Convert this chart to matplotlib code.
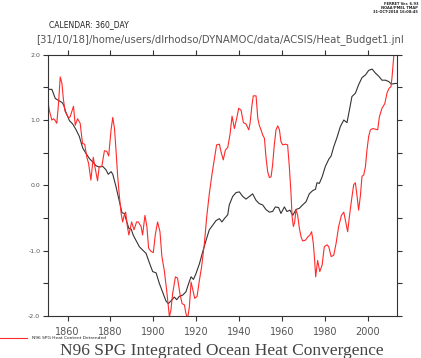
import matplotlib
matplotlib.use("Agg")
import matplotlib.pyplot as plt
from matplotlib.ticker import MultipleLocator, FixedLocator

# black series (heat convergence)
conv_years = [1850.8, 1852.7, 1854.3, 1855.8, 1857.4, 1858.2, 1859.0, 1860.9, 1862.4, 1864.0,
              1865.5, 1867.1, 1868.6, 1870.2, 1871.7, 1873.3, 1874.8, 1876.4, 1877.9, 1879.0,
              1880.3, 1881.1, 1882.6, 1884.2, 1885.4, 1886.5, 1887.1, 1888.6, 1889.7, 1890.6,
              1892.2, 1893.5, 1895.0, 1896.6, 1898.1, 1899.7, 1901.3, 1902.8, 1904.4, 1905.9,
              1907.0, 1908.2, 1909.8, 1910.9, 1912.1, 1913.7, 1915.2, 1916.5, 1917.6, 1918.7,
              1919.9, 1921.5, 1923.0, 1924.6, 1926.1, 1927.7, 1929.2, 1930.8, 1932.0, 1933.1,
              1934.7, 1935.4, 1937.0, 1938.6, 1940.1, 1941.7, 1943.2, 1944.8, 1946.3, 1947.9,
              1949.4, 1951.0, 1952.5, 1954.1, 1955.6, 1956.9, 1958.4, 1959.5, 1961.1, 1962.3,
              1963.7, 1965.0, 1966.5, 1968.1, 1969.6, 1971.2, 1972.7, 1974.3, 1975.6, 1976.3,
              1977.4, 1978.7, 1980.2, 1981.8, 1982.9, 1984.1, 1985.6, 1987.2, 1988.8, 1990.3,
              1991.4, 1992.6, 1994.2, 1995.7, 1997.3, 1998.9, 2000.4, 2002.0, 2003.5, 2005.1,
              2006.6, 2008.2, 2009.7, 2011.0, 2012.8, 2013.8]
conv_vals = [1.47, 1.47, 1.33, 1.30, 1.27, 1.23, 1.14, 0.99, 0.94, 0.85,
             0.75, 0.57, 0.49, 0.41, 0.36, 0.30, 0.28, 0.29, 0.24, 0.17,
             0.21, 0.17, -0.02, -0.25, -0.42, -0.43, -0.50, -0.66, -0.67, -0.76,
             -0.86, -0.94, -0.99, -1.04, -1.18, -1.32, -1.34, -1.50, -1.64, -1.77,
             -1.81, -1.77, -1.71, -1.75, -1.70, -1.68, -1.63, -1.50, -1.40, -1.44,
             -1.35, -1.20, -1.02, -0.84, -0.68, -0.61, -0.54, -0.51, -0.56, -0.51,
             -0.45, -0.30, -0.17, -0.11, -0.10, -0.17, -0.21, -0.17, -0.13, -0.23,
             -0.28, -0.30, -0.37, -0.41, -0.40, -0.33, -0.34, -0.43, -0.33, -0.40,
             -0.38, -0.46, -0.37, -0.35, -0.30, -0.25, -0.13, -0.08, -0.06, 0.04,
             0.03, 0.13, 0.29, 0.40, 0.45, 0.59, 0.73, 0.90, 1.00, 0.96,
             1.15, 1.36, 1.41, 1.54, 1.65, 1.69, 1.76, 1.78, 1.72, 1.67,
             1.61, 1.61, 1.59, 1.55, 1.56, 1.56]

# red series (heat content detrended)
hc_years = [1850.9, 1851.5, 1852.7, 1853.5, 1854.3, 1855.0, 1855.8, 1856.6, 1857.4, 1858.1,
            1858.9, 1859.7, 1860.5, 1861.2, 1862.8, 1863.6, 1864.7, 1865.9, 1867.0, 1868.0,
            1869.0, 1869.8, 1870.9, 1872.0, 1872.9, 1874.0, 1874.8, 1876.0, 1877.2, 1878.3,
            1879.2, 1880.3, 1881.1, 1881.9, 1882.6, 1883.4, 1884.2, 1885.0, 1885.7, 1886.4,
            1887.1, 1887.9, 1888.6, 1889.9, 1891.0, 1892.2, 1893.0, 1894.3, 1895.0, 1896.1,
            1897.0, 1897.8, 1898.9, 1900.0, 1900.9, 1902.0, 1903.1, 1904.0, 1905.1, 1906.2,
            1907.0, 1907.5, 1908.2, 1909.0, 1910.3, 1911.3, 1912.4, 1913.4, 1914.5, 1915.2,
            1916.0, 1916.8, 1917.6, 1918.3, 1919.3, 1920.4, 1921.5, 1922.5, 1923.8, 1924.9,
            1926.1, 1927.4, 1928.4, 1929.5, 1930.8, 1931.6, 1932.6, 1933.6, 1934.7, 1935.8,
            1936.7, 1937.8, 1938.9, 1939.8, 1940.9, 1942.0, 1943.2, 1944.5, 1945.1, 1946.0,
            1946.6, 1947.9, 1948.7, 1949.4, 1950.2, 1951.0, 1951.8, 1952.5, 1953.3, 1954.1,
            1954.9, 1955.6, 1956.4, 1957.2, 1958.0, 1958.8, 1959.5, 1960.3, 1961.6, 1962.6,
            1963.4, 1964.2, 1964.7, 1965.3, 1965.9, 1966.5, 1967.3, 1968.1, 1968.9, 1969.6,
            1970.9, 1972.0, 1973.0, 1973.8, 1974.6, 1975.2, 1975.7, 1976.6, 1977.6, 1978.7,
            1979.7, 1981.0, 1981.8, 1982.9, 1984.1, 1985.2, 1986.4, 1987.7, 1988.8, 1989.5,
            1990.6, 1991.4, 1992.3, 1993.4, 1994.2, 1995.0, 1995.7, 1996.5, 1997.3, 1998.1,
            1998.9, 1999.6, 2000.4, 2001.2, 2002.3, 2003.5, 2004.6, 2005.4, 2006.6, 2007.9,
            2009.0, 2010.0, 2010.8, 2011.3, 2011.8, 2012.2]
hc_vals = [1.28, 1.15, 1.00, 1.02, 0.99, 0.95, 1.25, 1.66, 1.56, 1.31,
           1.13, 1.08, 1.03, 1.05, 1.21, 0.92, 1.02, 0.95, 0.64, 0.63,
           0.43, 0.34, 0.08, 0.43, 0.26, 0.07, 0.29, 0.29, 0.53, 0.52,
           0.45, 0.85, 1.04, 0.87, 0.54, 0.13, -0.17, -0.43, -0.56, -0.46,
           -0.41, -0.63, -0.76, -0.56, -0.68, -0.56, -0.56, -0.63, -0.76, -0.46,
           -0.63, -0.96, -1.01, -1.03, -0.76, -0.56, -0.71, -1.09, -1.30, -1.60,
           -1.86, -2.01, -1.91, -1.66, -1.40, -1.42, -1.66, -1.81, -1.83, -1.96,
           -2.04, -1.86, -1.48, -1.58, -1.73, -1.70, -1.45, -1.25, -0.89, -0.48,
           -0.13, 0.18, 0.39, 0.62, 0.63, 0.51, 0.39, 0.54, 0.58, 0.79,
           1.06, 0.87, 1.03, 1.18, 1.15, 0.96, 0.94, 0.85, 0.95, 1.23,
           1.37, 1.37, 1.03, 0.92, 0.85, 0.77, 0.72, 0.44, 0.21, 0.12,
           0.13, 0.31, 0.62, 0.85, 0.91, 0.85, 0.67, 0.62, 0.63, 0.62,
           0.29, -0.13, -0.48, -0.63, -0.56, -0.37, -0.46, -0.66, -0.79, -0.85,
           -0.84, -0.79, -0.76, -0.71, -0.89, -1.14, -1.40, -1.15, -1.32, -1.22,
           -0.94, -0.91, -0.94, -1.09, -1.07, -0.89, -0.63, -0.46, -0.41, -0.53,
           -0.71, -0.48, -0.25, 0.01, 0.04, -0.17, -0.38, -0.17, 0.14, 0.16,
           0.29, 0.54, 0.75, 0.85, 0.87, 0.86, 0.85, 1.05, 1.18, 1.25,
           1.42, 1.49, 1.51, 1.66, 1.87, 2.02]

x_ticks = [1860, 1880, 1900, 1920, 1940, 1960, 1980, 2000]

fig = plt.figure(figsize=(4.21, 3.58), dpi=100)
ax = fig.add_axes([0.114, 0.1173, 0.830, 0.7299])

ax.plot(conv_years, conv_vals, color="#333333", lw=0.8)
ax.plot(hc_years, hc_vals, color="#ff2a2a", lw=0.8)

ax.set_xlim(1850.9, 2013.8)
ax.set_ylim(-2.0, 2.0)

ax.xaxis.set_major_locator(FixedLocator(x_ticks))
ax.yaxis.set_major_locator(MultipleLocator(1.0))
ax.yaxis.set_minor_locator(MultipleLocator(0.5))
ax.yaxis.set_major_formatter(plt.FuncFormatter(lambda v, p: "%.1f" % v))

ax.tick_params(axis="both", which="both", direction="out", length=3.6, width=0.8,
               color="#333333", top=True, right=True)
ax.tick_params(axis="x", labelsize=7, labelcolor="#555555", pad=4)
ax.tick_params(axis="y", labelsize=4.5, labelcolor="#555555", pad=2)
for side in ax.spines.values():
    side.set_linewidth(0.8)
    side.set_color("#333333")

fig.text(49 / 421, 1 - 25 / 358, "CALENDAR: 360_DAY", fontsize=5.5, color="#222222",
         va="center", ha="left")
fig.text(36 / 421, 1 - 40 / 358,
         "[31/10/18]/home/users/dlrhodso/DYNAMOC/data/ACSIS/Heat_Budget1.jnl",
         fontsize=7.3, color="#555555", va="center", ha="left")
fig.text(418 / 421, 1 - 2 / 358, "FERRET Ver. 6.93\nNOAA/PMEL TMAP\n31-OCT-2018 16:08:45",
         fontsize=2.6, fontweight="bold", color="#222222", va="top", ha="right",
         linespacing=1.0, multialignment="right")

# legend entry under the axes
fig.lines.append(plt.Line2D([0, 27 / 421], [1 - 338 / 358, 1 - 338 / 358],
                            transform=fig.transFigure, color="#ff2a2a", lw=0.8))
fig.text(32 / 421, 1 - 338 / 358, "N96 SPG Heat Content Detrended", fontsize=3.2,
         color="#222222", va="center", ha="left")

fig.text(222 / 421, 1 - 351 / 358, "N96 SPG Integrated Ocean Heat Convergence",
         fontsize=12.5, family="Liberation Serif", color="#444444", va="center", ha="center")

fig.savefig("out.png", dpi=100)
